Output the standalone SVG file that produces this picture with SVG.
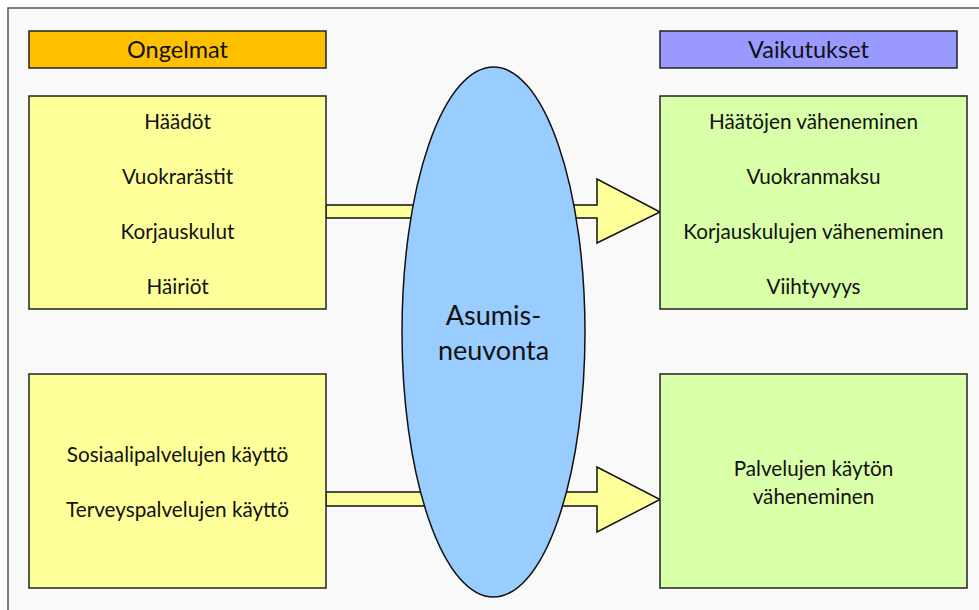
<svg xmlns="http://www.w3.org/2000/svg" width="979" height="610" viewBox="0 0 979 610">
<style>
.t{font-family:Lato,"Open Sans","Liberation Sans",sans-serif;fill:#111;text-anchor:middle}
.h{font-size:23.5px}
.b{font-size:20.7px}
.e{font-size:27px}
.box{stroke:#222;stroke-width:1.5}
.arr{fill:#ffff99;stroke:#111;stroke-width:1.5;stroke-linejoin:miter}
</style>
<rect width="979" height="610" fill="#ffffff"/>
<rect x="8" y="8" width="1000" height="700" fill="#f9f9f9" stroke="#555" stroke-width="1.5"/>
<g id="hdr-ongelmat">
<rect class="box" x="29" y="31" width="297" height="37" fill="#ffc000"/>
<text class="t h" x="177.5" y="58">Ongelmat</text>
</g>
<g id="hdr-vaikutukset">
<rect class="box" x="660" y="31" width="297" height="37" fill="#9999ff"/>
<text class="t h" x="808.5" y="58">Vaikutukset</text>
</g>
<g id="connectors">
<polygon class="arr" points="326,205 597,205 597,179 660,212 597,243 597,218 326,218"/>
<polygon class="arr" points="326,492 597,492 597,467 660,499.5 597,532 597,506 326,506"/>
</g>
<g id="box-ongelmat1">
<rect class="box" x="29" y="96" width="297" height="213" fill="#ffff99"/>
<text class="t b" x="177.5" y="129">Häädöt</text>
<text class="t b" x="177.5" y="184">Vuokrarästit</text>
<text class="t b" x="177.5" y="239">Korjauskulut</text>
<text class="t b" x="177.5" y="294">Häiriöt</text>
</g>
<g id="box-ongelmat2">
<rect class="box" x="29" y="374" width="297" height="214" fill="#ffff99"/>
<text class="t b" x="177.5" y="462">Sosiaalipalvelujen käyttö</text>
<text class="t b" x="177.5" y="517">Terveyspalvelujen käyttö</text>
</g>
<g id="box-vaikutukset1">
<rect class="box" x="660" y="96" width="307" height="213" fill="#d9ffa8"/>
<text class="t b" x="813.5" y="129">Häätöjen väheneminen</text>
<text class="t b" x="813.5" y="184">Vuokranmaksu</text>
<text class="t b" x="813.5" y="239">Korjauskulujen väheneminen</text>
<text class="t b" x="813.5" y="294">Viihtyvyys</text>
</g>
<g id="box-vaikutukset2">
<rect class="box" x="660" y="374" width="307" height="214" fill="#d9ffa8"/>
<text class="t b" x="813.5" y="476">Palvelujen käytön</text>
<text class="t b" x="813.5" y="504">väheneminen</text>
</g>
<g id="asumisneuvonta">
<ellipse cx="493.5" cy="332" rx="91.5" ry="265" fill="#99ccff" stroke="#111" stroke-width="1.5"/>
<text class="t e" x="493.5" y="325">Asumis-</text>
<text class="t e" x="493.5" y="360">neuvonta</text>
</g>
</svg>
